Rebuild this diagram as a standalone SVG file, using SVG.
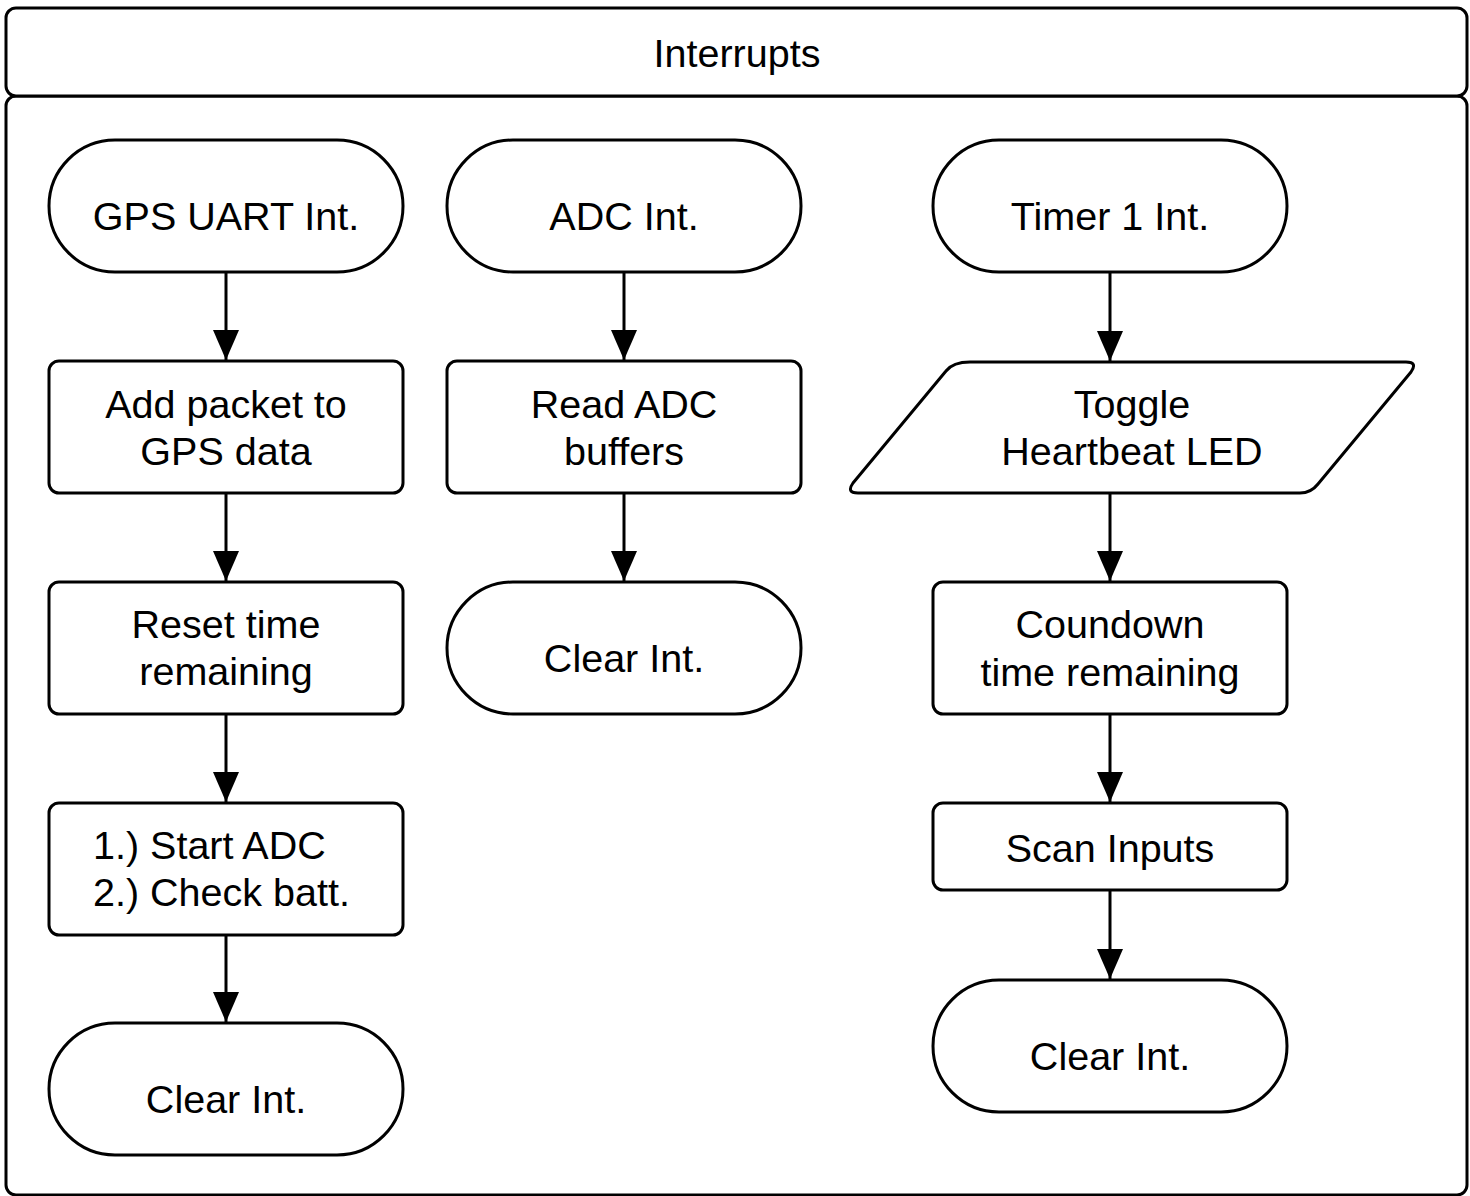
<svg xmlns="http://www.w3.org/2000/svg" width="1470" height="1196" viewBox="0 0 1470 1196">
  <defs>
    <style>
      .shape { fill: #ffffff; stroke: #000000; stroke-width: 3; }
      .edge { fill: none; stroke: #000000; stroke-width: 3; }
      .label { font-family: "Liberation Sans", Arial, sans-serif; font-size: 39.5px; fill: #000000; text-anchor: middle; }
      .left { text-anchor: start; }
    </style>
    <marker id="head" viewBox="0 0 30 26" refX="30" refY="13" markerWidth="30" markerHeight="26" markerUnits="userSpaceOnUse" orient="auto">
      <path d="M0,0 L30,13 L0,26 Z" fill="#000000"/>
    </marker>
  </defs>

  <rect width="1470" height="1196" fill="#ffffff"/>

  <!-- swimlane container -->
  <g id="lane">
    <rect class="shape" x="6" y="96" width="1461" height="1099" rx="10"/>
    <rect class="shape" x="6" y="8" width="1461" height="88" rx="10"/>
    <text class="label" x="737" y="67">Interrupts</text>
  </g>

  <!-- connectors -->
  <g id="connectors">
    <line class="edge" x1="226" y1="273" x2="226" y2="360" marker-end="url(#head)"/>
    <line class="edge" x1="226" y1="494" x2="226" y2="581" marker-end="url(#head)"/>
    <line class="edge" x1="226" y1="715" x2="226" y2="802" marker-end="url(#head)"/>
    <line class="edge" x1="226" y1="936" x2="226" y2="1022" marker-end="url(#head)"/>
    <line class="edge" x1="624" y1="273" x2="624" y2="360" marker-end="url(#head)"/>
    <line class="edge" x1="624" y1="494" x2="624" y2="581" marker-end="url(#head)"/>
    <line class="edge" x1="1110" y1="273" x2="1110" y2="361" marker-end="url(#head)"/>
    <line class="edge" x1="1110" y1="494" x2="1110" y2="581" marker-end="url(#head)"/>
    <line class="edge" x1="1110" y1="715" x2="1110" y2="802" marker-end="url(#head)"/>
    <line class="edge" x1="1110" y1="891" x2="1110" y2="979" marker-end="url(#head)"/>
  </g>

  <!-- GPS UART column -->
  <g id="gps-start">
    <rect class="shape" x="49" y="140" width="354" height="132" rx="66"/>
    <text class="label" x="226" y="230">GPS UART Int.</text>
  </g>
  <g id="gps-add">
    <rect class="shape" x="49" y="361" width="354" height="132" rx="10"/>
    <text class="label" x="226" y="418">Add packet to</text>
    <text class="label" x="226" y="465">GPS data</text>
  </g>
  <g id="gps-reset">
    <rect class="shape" x="49" y="582" width="354" height="132" rx="10"/>
    <text class="label" x="226" y="638">Reset time</text>
    <text class="label" x="226" y="685">remaining</text>
  </g>
  <g id="gps-adc">
    <rect class="shape" x="49" y="803" width="354" height="132" rx="10"/>
    <text class="label left" x="93" y="859">1.) Start ADC</text>
    <text class="label left" x="93" y="906">2.) Check batt.</text>
  </g>
  <g id="gps-clear">
    <rect class="shape" x="49" y="1023" width="354" height="132" rx="66"/>
    <text class="label" x="226" y="1113">Clear Int.</text>
  </g>

  <!-- ADC column -->
  <g id="adc-start">
    <rect class="shape" x="447" y="140" width="354" height="132" rx="66"/>
    <text class="label" x="624" y="230">ADC Int.</text>
  </g>
  <g id="adc-read">
    <rect class="shape" x="447" y="361" width="354" height="132" rx="10"/>
    <text class="label" x="624" y="418">Read ADC</text>
    <text class="label" x="624" y="465">buffers</text>
  </g>
  <g id="adc-clear">
    <rect class="shape" x="447" y="582" width="354" height="132" rx="66"/>
    <text class="label" x="624" y="672">Clear Int.</text>
  </g>

  <!-- Timer 1 column -->
  <g id="timer-start">
    <rect class="shape" x="933" y="140" width="354" height="132" rx="66"/>
    <text class="label" x="1110" y="230">Timer 1 Int.</text>
  </g>
  <g id="timer-toggle">
    <path class="shape" stroke-linejoin="round" d="M970,362 L1406,362 Q1418,362 1411,372 L1318,484 Q1311,493 1300,493 L858,493 Q846,493 853,483 L946,371 Q953,362 970,362 Z"/>
    <text class="label" x="1132" y="418">Toggle</text>
    <text class="label" x="1132" y="465">Heartbeat LED</text>
  </g>
  <g id="timer-countdown">
    <rect class="shape" x="933" y="582" width="354" height="132" rx="10"/>
    <text class="label" x="1110" y="638">Coundown</text>
    <text class="label" x="1110" y="686">time remaining</text>
  </g>
  <g id="timer-scan">
    <rect class="shape" x="933" y="803" width="354" height="87" rx="10"/>
    <text class="label" x="1110" y="862">Scan Inputs</text>
  </g>
  <g id="timer-clear">
    <rect class="shape" x="933" y="980" width="354" height="132" rx="66"/>
    <text class="label" x="1110" y="1070">Clear Int.</text>
  </g>
</svg>
